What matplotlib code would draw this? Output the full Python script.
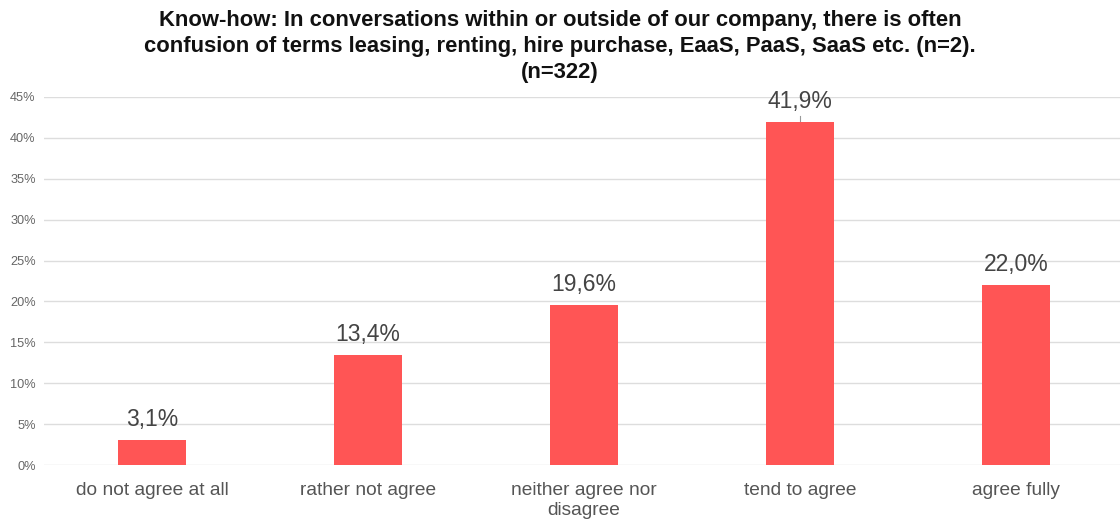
import matplotlib
matplotlib.use("Agg")
import matplotlib.pyplot as plt
from matplotlib.ticker import FuncFormatter, MultipleLocator

categories = ["do not agree at all", "rather not agree", "neither agree nor\ndisagree",
              "tend to agree", "agree fully"]
values = [3.1, 13.4, 19.6, 41.9, 22.0]
value_labels = ["3,1%", "13,4%", "19,6%", "41,9%", "22,0%"]
title = ("Know-how: In conversations within or outside of our company, there is often\n"
         "confusion of terms leasing, renting, hire purchase, EaaS, PaaS, SaaS etc. (n=2).\n"
         "(n=322)")

plt.rcParams["font.family"] = ["Liberation Sans", "DejaVu Sans"]

fig = plt.figure(figsize=(11.2, 5.2), dpi=100)
ax = fig.add_axes([44 / 1120, 1 - 465 / 520, 1076 / 1120, 368 / 520])

x = list(range(len(categories)))
ax.bar(x, values, width=0.315, color="#FF5555", zorder=3)
for xi, v, lab in zip(x, values, value_labels):
    ax.text(xi, v + 1.1, lab, ha="center", va="bottom", fontsize=16.5, color="#444444")

# short leader line above the tallest bar
imax = values.index(max(values))
ax.plot([imax, imax], [values[imax], values[imax] + 0.8], color="#999999", lw=0.8, zorder=2)

ax.set_xlim(-0.5, -0.5 + 1076 / 216)
ax.set_ylim(0, 45)
ax.yaxis.set_major_locator(MultipleLocator(5))
ax.yaxis.set_major_formatter(FuncFormatter(lambda v, p: f"{v:.0f}%"))
ax.grid(axis="y", color="#DDDDDD", linewidth=1, zorder=0)
ax.set_xticks(x)
ax.set_xticklabels(categories, fontsize=13.8, color="#555555", linespacing=1.25)
ax.tick_params(axis="x", length=0, pad=12)
ax.tick_params(axis="y", length=0, labelsize=9.2, labelcolor="#666666", pad=6)
for s in ax.spines.values():
    s.set_visible(False)

fig.text(0.5, 1 - 10 / 520, title, ha="center", va="top", fontsize=15.8, fontweight="bold",
         color="#111111", linespacing=1.32)

fig.savefig("out.png", dpi=100)
